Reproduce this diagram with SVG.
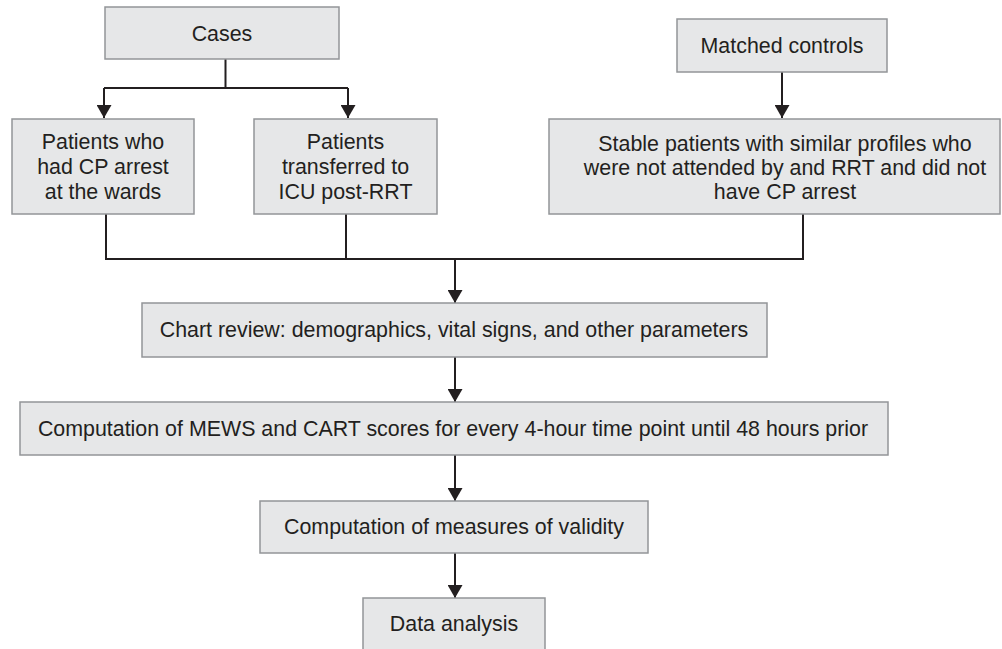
<svg xmlns="http://www.w3.org/2000/svg" width="1002" height="649" viewBox="0 0 1002 649">
<style>
.box{fill:#e6e7e8;stroke:#939598;stroke-width:1.5}
.t{font-family:"Liberation Sans",Arial,sans-serif;font-size:21.4px;fill:#231f20;text-anchor:middle}
.c{fill:none;stroke:#231f20;stroke-width:2}
</style>
<defs>
<marker id="ah" viewBox="0 0 13 15" refX="13" refY="7.5" markerWidth="13" markerHeight="15" markerUnits="userSpaceOnUse" orient="auto">
<path d="M0,0 L13,7.5 L0,15 Z" fill="#231f20"/>
</marker>
</defs>
<rect width="1002" height="649" fill="#ffffff"/>
<g id="connectors">
<path class="c" d="M225.5,59 V88 M104,88 H348"/>
<path class="c" d="M104,88 V118" marker-end="url(#ah)"/>
<path class="c" d="M348,88 V118" marker-end="url(#ah)"/>
<path class="c" d="M782,72 V118" marker-end="url(#ah)"/>
<path class="c" d="M106,214 V259 H803 V214 M346,214 V259"/>
<path class="c" d="M455,259 V303" marker-end="url(#ah)"/>
<path class="c" d="M455,357 V402" marker-end="url(#ah)"/>
<path class="c" d="M455,455 V501" marker-end="url(#ah)"/>
<path class="c" d="M455,553 V598" marker-end="url(#ah)"/>
</g>
<g id="cases">
<rect class="box" x="105" y="7" width="234" height="52"/>
<text class="t" x="222" y="41">Cases</text>
</g>
<g id="matched">
<rect class="box" x="677" y="19" width="210" height="53"/>
<text class="t" x="782" y="53">Matched controls</text>
</g>
<g id="cparrest">
<rect class="box" x="12" y="119" width="182" height="95"/>
<text class="t" x="103" y="149">Patients who</text>
<text class="t" x="103" y="174">had CP arrest</text>
<text class="t" x="103" y="199">at the wards</text>
</g>
<g id="icu">
<rect class="box" x="254" y="119" width="183" height="95"/>
<text class="t" x="345.5" y="149">Patients</text>
<text class="t" x="345.5" y="174">transferred to</text>
<text class="t" x="345.5" y="199">ICU post-RRT</text>
</g>
<g id="stable">
<rect class="box" x="549" y="119" width="451" height="95"/>
<text class="t" x="785" y="151">Stable patients with similar profiles who</text>
<text class="t" x="785" y="175">were not attended by and RRT and did not</text>
<text class="t" x="785" y="199">have CP arrest</text>
</g>
<g id="chart">
<rect class="box" x="142" y="303" width="625" height="54"/>
<text class="t" x="454" y="337">Chart review: demographics, vital signs, and other parameters</text>
</g>
<g id="mews">
<rect class="box" x="20" y="402" width="868" height="53"/>
<text class="t" x="453" y="436">Computation of MEWS and CART scores for every 4-hour time point until 48 hours prior</text>
</g>
<g id="validity">
<rect class="box" x="260" y="501" width="388" height="52"/>
<text class="t" x="454" y="534">Computation of measures of validity</text>
</g>
<g id="analysis">
<rect class="box" x="363" y="598" width="182" height="60"/>
<text class="t" x="454" y="631">Data analysis</text>
</g>
</svg>
